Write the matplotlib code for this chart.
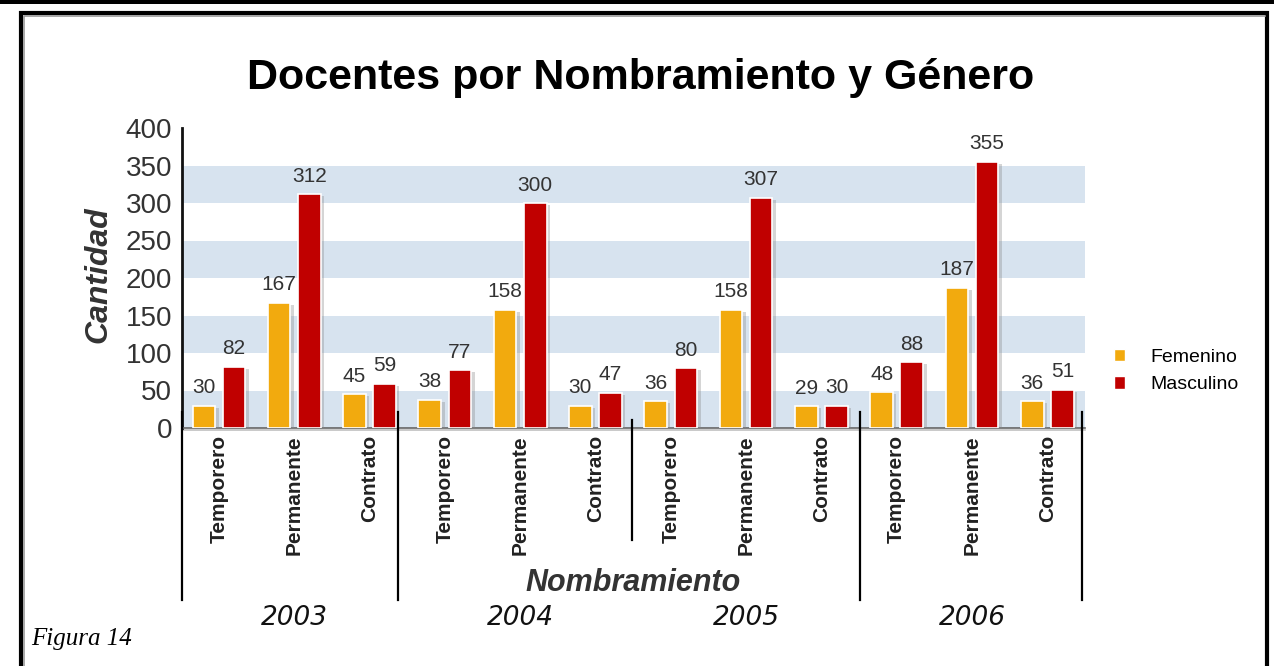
import matplotlib
matplotlib.use('Agg')
import matplotlib.pyplot as plt
import matplotlib.patheffects as pe
from matplotlib.lines import Line2D
from matplotlib.patches import Patch, Rectangle
import numpy as np

# --- datos ---
years = ['2003', '2004', '2005', '2006']
tipos = ['Temporero', 'Permanente', 'Contrato']
femenino = [30, 167, 45, 38, 158, 30, 36, 158, 29, 48, 187, 36]
masculino = [82, 312, 59, 77, 300, 47, 80, 307, 30, 88, 355, 51]
bandas = [(0, 50), (100, 150), (200, 250), (300, 350)]

C_FEM = '#f2aa0e'
C_MAS = '#c00000'
BANDA = '#d7e3ef'

W, H = 1274, 666
fig = plt.figure(figsize=(W / 100, H / 100), dpi=100)
plt.rcParams['font.family'] = ['Liberation Sans', 'DejaVu Sans']


def fx(px):
    return px / W


def fy(py):
    return 1 - py / H


ax = fig.add_axes([fx(182), fy(428), fx(1085) - fx(182), fy(128) - fy(428)])

x = np.arange(len(femenino))
labels = tipos * len(years)

for lo, hi in bandas:
    ax.axhspan(lo, hi, color=BANDA, zorder=0, lw=0)

sombra = [pe.SimplePatchShadow(offset=(2.5, -1.5), shadow_rgbFace='#888888', alpha=0.35), pe.Normal()]
b1 = ax.bar(x - 0.2, femenino, 0.3, color=C_FEM, edgecolor='white', linewidth=1.2, zorder=3)
b2 = ax.bar(x + 0.2, masculino, 0.3, color=C_MAS, edgecolor='white', linewidth=1.2, zorder=3)
for b in list(b1) + list(b2):
    b.set_path_effects(sombra)

for xi, v in zip(x, femenino):
    ax.annotate(str(v), (xi - 0.2, v), xytext=(0, 6), textcoords='offset points',
                ha='center', va='bottom', fontsize=15, color='#333333')
for xi, v in zip(x, masculino):
    ax.annotate(str(v), (xi + 0.2, v), xytext=(0, 6), textcoords='offset points',
                ha='center', va='bottom', fontsize=15, color='#333333')

ax.set_xlim(-0.49, 11.5)
ax.set_ylim(0, 400)
ax.set_yticks(range(0, 401, 50))
ax.tick_params(axis='y', length=0, pad=7, labelsize=20, labelcolor='#333333')
ax.set_xticks(x)
ax.set_xticklabels(labels, rotation=90, fontsize=15, fontweight='bold', color='#222222', va='top')
ax.tick_params(axis='x', length=0, pad=5)
for s in ['top', 'right']:
    ax.spines[s].set_visible(False)
ax.spines['left'].set_color('#111111')
ax.spines['left'].set_linewidth(2)
ax.spines['bottom'].set_color('#666666')
ax.spines['bottom'].set_linewidth(1.2)
ax.spines['bottom'].set_path_effects([pe.SimpleLineShadow(offset=(0, -1.5), alpha=0.25), pe.Normal()])

ax.set_ylabel('Cantidad', fontsize=23, fontweight='bold', style='italic', color='#333333')
ax.yaxis.set_label_coords(-0.076, 0.51)

# separadores de años
trans = ax.get_xaxis_transform()
for xs, y0, y1 in [(-0.49, 0.053, -0.573), (2.377, 0.053, -0.573), (5.485, 0.027, -0.373),
                   (8.51, 0.053, -0.573), (11.46, 0.053, -0.573)]:
    ax.plot([xs, xs], [y0, y1], color='black', lw=1.6, transform=trans, clip_on=False, zorder=5)

# etiquetas de año
for i, yr in enumerate(years):
    xc = x[i * 3:(i + 1) * 3].mean()
    ax.text(xc, -0.657, yr, transform=trans, ha='center', va='baseline',
            fontsize=19, style='italic', family='DejaVu Sans', color='#111111')

fig.text(fx(633), fy(583), 'Nombramiento', ha='center', va='center', fontsize=22,
         fontweight='bold', style='italic', color='#333333')
fig.text(fx(641), fy(78), 'Docentes por Nombramiento y Género', ha='center', va='center',
         fontsize=31, fontweight='bold', color='black')
fig.text(fx(31), fy(645), 'Figura 14', ha='left', va='baseline', fontsize=18,
         style='italic', family='Liberation Serif', color='black')

handles = [Patch(facecolor=C_FEM, edgecolor='white'), Patch(facecolor=C_MAS, edgecolor='white')]
fig.legend(handles, ['Femenino', 'Masculino'], loc='center left',
           bbox_to_anchor=(fx(1096), fy(371)), frameon=False, fontsize=14,
           handlelength=0.6, handleheight=0.6, handletextpad=1.3, labelspacing=0.55)

# marco
fig.add_artist(Rectangle((0, fy(4)), 1, fy(0) - fy(4), transform=fig.transFigure,
                         color='black', lw=0))
fig.add_artist(Line2D([fx(21), fx(21), fx(1267), fx(1267)], [0, fy(13), fy(13), 0],
                      transform=fig.transFigure, color='black', lw=3,
                      solid_joinstyle='miter'))
fig.add_artist(Line2D([fx(23.5), fx(23.5), fx(1264.5)], [0, fy(15.5), fy(15.5)],
                      transform=fig.transFigure, color='#999999', lw=1.2))

fig.savefig('out.png', dpi=100)
